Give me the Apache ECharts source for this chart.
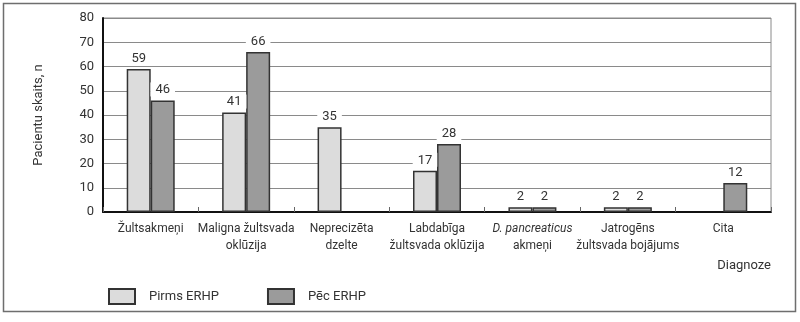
<!DOCTYPE html>
<html>
<head>
<meta charset="utf-8">
<script src="https://cdn.jsdelivr.net/npm/echarts@6/dist/echarts.min.js"></script>
<style>
  html, body { margin: 0; padding: 0; background: #fff; }
  #chart { width: 800px; height: 322px; }
</style>
</head>
<body>
<div id="chart"></div>
<script>
// Diagnoses (x categories) and patient counts before / after ERCP
const categories = [
  'Žultsakmeņi',
  'Maligna žultsvada\noklūzija',
  'Neprecizēta\ndzelte',
  'Labdabīga\nžultsvada oklūzija',
  'D. pancreaticus\nakmeņi',
  'Jatrogēns\nžultsvada bojājums',
  'Cita'
];
const pirmsERHP = [59, 41, 35, 17, 2, 2, null];
const pecERHP = [46, 66, null, 28, 2, 2, 12];
const yTicks = { min: 0, max: 80, step: 10 };

const FONT = 'Roboto, "Liberation Sans", Arial, sans-serif';
const TEXT = '#333333';

const chart = echarts.init(document.getElementById('chart'), null, { renderer: 'canvas' });

const valueLabel = {
  show: true,
  position: 'top',
  distance: 4,
  color: TEXT,
  fontFamily: FONT,
  fontSize: 13,
  backgroundColor: '#ffffff',
  padding: [1, 5, 0, 5]
};

chart.setOption({
  animation: false,
  textStyle: { fontFamily: FONT, color: TEXT },
  grid: {
    left: 103, top: 18, right: 29, bottom: 110,
    show: true, borderColor: '#8a8a8a', borderWidth: 1, backgroundColor: 'transparent'
  },
  legend: {
    left: 103, top: 283,
    itemWidth: 26, itemHeight: 15, itemGap: 48,
    icon: 'rect',
    textStyle: { fontFamily: FONT, fontSize: 13, color: TEXT, padding: [0, 0, 0, 9] },
    data: ['Pirms ERHP', 'Pēc ERHP']
  },
  xAxis: {
    type: 'category',
    data: categories,
    axisLine: { show: true, lineStyle: { color: '#111', width: 2 } },
    axisTick: { show: true, inside: true, length: 5, lineStyle: { color: '#666', width: 1 } },
    axisLabel: {
      interval: 0,
      margin: 8,
      color: TEXT,
      fontFamily: FONT,
      fontSize: 12,
      lineHeight: 17,
      formatter: function (v) {
        if (v.indexOf('D. pancreaticus') === 0) {
          return '{i|D. pancreaticus}\nakmeņi';
        }
        return v;
      },
      rich: {
        i: { fontStyle: 'italic', fontFamily: FONT, fontSize: 12, color: TEXT, lineHeight: 17 }
      }
    }
  },
  yAxis: {
    type: 'value',
    min: yTicks.min, max: yTicks.max, interval: yTicks.step,
    name: 'Pacientu skaits, n',
    nameLocation: 'middle',
    nameGap: 58,
    nameRotate: 90,
    nameTextStyle: { fontFamily: FONT, fontSize: 13, color: TEXT },
    axisLine: { show: true, lineStyle: { color: '#111', width: 2 } },
    axisTick: { show: false },
    axisLabel: { margin: 9, color: TEXT, fontFamily: FONT, fontSize: 13 },
    splitLine: { show: true, lineStyle: { color: '#8a8a8a', width: 1 } }
  },
  series: [
    {
      name: 'Pirms ERHP',
      type: 'bar',
      data: pirmsERHP,
      barWidth: 24,
      barGap: '0%',
      itemStyle: { color: '#dcdcdc', borderColor: '#333', borderWidth: 1.5 },
      label: valueLabel
    },
    {
      name: 'Pēc ERHP',
      type: 'bar',
      data: pecERHP,
      barWidth: 24,
      barGap: '0%',
      itemStyle: { color: '#9b9b9b', borderColor: '#333', borderWidth: 1.5 },
      label: valueLabel
    }
  ],
  graphic: [
    {
      type: 'rect',
      shape: { x: 3.5, y: 3.5, width: 792, height: 308 },
      style: { fill: 'none', stroke: '#6e6e6e', lineWidth: 1.5 },
      silent: true,
      z: -1
    },
    {
      type: 'text',
      right: 29, top: 259,
      style: { text: 'Diagnoze', fontFamily: FONT, fontSize: 13, fill: TEXT }
    }
  ]
});
</script>
</body>
</html>
